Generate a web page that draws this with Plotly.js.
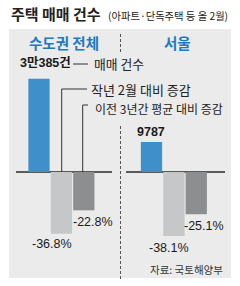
<!DOCTYPE html>
<html><head><meta charset="utf-8">
<script src="https://cdn.plot.ly/plotly-3.0.1.min.js"></script>
<style>html,body{margin:0;padding:0;background:#fff;}#c{width:240px;height:286px;}</style>
</head><body><div id="c"></div>
<script>
// ---- data ----
const categories = ['매매 건수', '작년 2월 대비 증감', '이전 3년간 평균 대비 증감'];
const regions = ['수도권 전체', '서울'];
const salesCount = [30385, 9787];          // 건
const yoyChange = [-36.8, -38.1];          // % vs last Feb
const avg3yChange = [-22.8, -25.1];        // % vs prior 3-yr avg
const titleText = '주택 매매 건수';
const subtitleText = '(아파트·단독주택 등 올 2월)';
const sourceText = '자료: 국토해양부';

// ---- style ----
const W = 240, H = 286;
const BLUE = '#3f8fca', LIGHT = '#c6c7c9', DARK = '#8d8e90', HEAD = '#1c79c2', PANEL = '#ebebeb';
const NUMF = '"Liberation Sans", Arial, "Noto Sans CJK KR", sans-serif';
const KRF = '"Noto Sans CJK KR", "Noto Sans", sans-serif';
const px = x => x / W, py = y => 1 - y / H;

function fmtCount(v) {
  if (v >= 10000) return Math.floor(v / 10000) + '만' + (v % 10000) + '건';
  return String(v);
}
function fmtPct(v) { return v.toFixed(1) + '%'; }

const countRange = [-114 * 326, 172 * 326];
const pctRange = [-114 * 0.595, 172 * 0.595];

const xa = ['x', 'x2'], yc = ['y', 'y3'], yp = ['y2', 'y4'];
const traces = [];
const annotations = [];
for (let i = 0; i < 2; i++) {
  traces.push({
    type: 'bar', x: [categories[0]], y: [salesCount[i]], xaxis: xa[i], yaxis: yc[i],
    width: 0.95, marker: {color: BLUE}, hoverinfo: 'skip', showlegend: false
  });
  traces.push({
    type: 'bar', x: [categories[1], categories[2]], y: [yoyChange[i], avg3yChange[i]],
    xaxis: xa[i], yaxis: yp[i], width: 0.95, marker: {color: [LIGHT, DARK]},
    hoverinfo: 'skip', showlegend: false
  });
}
// value labels
const cShift = [[6, 15.5], [0, 9.5]];
const lShift = [[-9, -10.5], [-4.4, -12]];
const dShift = [[8.7, -11.7], [8.2, -11.5]];
for (let i = 0; i < 2; i++) {
  annotations.push({xref: xa[i], yref: yc[i], x: categories[0], y: salesCount[i], text: '<b>' + fmtCount(salesCount[i]) + '</b>',
    showarrow: false, xanchor: 'center', yanchor: 'middle', xshift: cShift[i][0], yshift: cShift[i][1],
    font: {family: NUMF, size: 12.5, color: '#1a1a1a'}});
  annotations.push({xref: xa[i], yref: yp[i], x: categories[1], y: yoyChange[i], text: fmtPct(yoyChange[i]),
    showarrow: false, xanchor: 'center', yanchor: 'middle', xshift: lShift[i][0], yshift: lShift[i][1],
    font: {family: NUMF, size: 12.5, color: '#1a1a1a'}});
  annotations.push({xref: xa[i], yref: yp[i], x: categories[2], y: avg3yChange[i], text: fmtPct(avg3yChange[i]),
    showarrow: false, xanchor: 'center', yanchor: 'middle', xshift: dShift[i][0], yshift: dShift[i][1],
    font: {family: NUMF, size: 12.5, color: '#1a1a1a'}});
}
// titles & labels
annotations.push({xref: 'paper', yref: 'paper', x: px(9), y: py(13.5), text: '<b>' + titleText + '</b>', showarrow: false,
  xanchor: 'left', yanchor: 'middle', font: {family: KRF, size: 15, color: '#222'}});
annotations.push({xref: 'paper', yref: 'paper', x: px(106), y: py(15), text: subtitleText, showarrow: false,
  xanchor: 'left', yanchor: 'middle', font: {family: KRF, size: 10.3, color: '#222'}});
annotations.push({xref: 'paper', yref: 'paper', x: px(63.5), y: py(43), text: '<b>' + regions[0] + '</b>', showarrow: false,
  xanchor: 'center', yanchor: 'middle', font: {family: KRF, size: 14.5, color: HEAD}});
annotations.push({xref: 'paper', yref: 'paper', x: px(177), y: py(43), text: '<b>' + regions[1] + '</b>', showarrow: false,
  xanchor: 'center', yanchor: 'middle', font: {family: KRF, size: 14.5, color: HEAD}});
annotations.push({xref: 'paper', yref: 'paper', x: px(92), y: py(63.5), text: categories[0], showarrow: false,
  xanchor: 'left', yanchor: 'middle', font: {family: KRF, size: 12.8, color: '#222'}});
annotations.push({xref: 'paper', yref: 'paper', x: px(88.5), y: py(89.5), text: categories[1], showarrow: false,
  xanchor: 'left', yanchor: 'middle', font: {family: KRF, size: 13, color: '#222'}});
annotations.push({xref: 'paper', yref: 'paper', x: px(92.5), y: py(108), text: categories[2], showarrow: false,
  xanchor: 'left', yanchor: 'middle', font: {family: KRF, size: 12, color: '#222'}});
annotations.push({xref: 'paper', yref: 'paper', x: px(224.5), y: py(269), text: sourceText, showarrow: false,
  xanchor: 'right', yanchor: 'middle', font: {family: KRF, size: 10.5, color: '#333'}});

const P = (pts) => 'M ' + pts.map(p => px(p[0]) + ',' + py(p[1])).join(' L ');
const divLine = {color: '#555', width: 1, dash: '3px,2px'};
const shapes = [
  {type: 'rect', xref: 'paper', yref: 'paper', x0: px(9), x1: px(231), y0: py(278), y1: py(29), fillcolor: PANEL, line: {width: 0}, layer: 'below'},
  {type: 'line', xref: 'paper', yref: 'paper', x0: px(120.5), x1: px(120.5), y0: py(34), y1: py(52), line: divLine},
  {type: 'line', xref: 'paper', yref: 'paper', x0: px(120.5), x1: px(120.5), y0: py(126), y1: py(279), line: divLine},
  {type: 'line', xref: 'paper', yref: 'paper', x0: px(73), x1: px(88), y0: py(64), y1: py(64), line: {color: '#333', width: 1}},
  {type: 'path', xref: 'paper', yref: 'paper', path: P([[61.7, 172], [61.7, 89], [87, 89]]), line: {color: '#333', width: 1}},
  {type: 'path', xref: 'paper', yref: 'paper', path: P([[82.7, 172], [82.7, 105], [88, 105]]), line: {color: '#333', width: 1}}
];

const hidX = {type: 'category', categoryorder: 'array', categoryarray: categories, showticklabels: false, showgrid: false,
  zeroline: false, showline: false, ticks: '', fixedrange: true};
const cntY = {range: countRange, showticklabels: false, showgrid: false, ticks: '', showline: false,
  zeroline: true, zerolinecolor: '#5a5a5a', zerolinewidth: 1.5, layer: 'above traces', fixedrange: true, domain: [0, 1]};
const pctY = {range: pctRange, visible: false, showgrid: false, zeroline: false, fixedrange: true};

const layout = {
  width: W, height: H, margin: {l: 0, r: 0, t: 0, b: 0},
  paper_bgcolor: '#fff', plot_bgcolor: 'rgba(0,0,0,0)', barmode: 'overlay', showlegend: false,
  xaxis: Object.assign({}, hidX, {domain: [px(16), px(112)], range: [-1.027, 3.259], anchor: 'y'}),
  yaxis: Object.assign({}, cntY, {anchor: 'x'}),
  yaxis2: Object.assign({}, pctY, {overlaying: 'y', anchor: 'x'}),
  xaxis2: Object.assign({}, hidX, {domain: [px(126), px(225)], range: [-1.138, 3.282], anchor: 'y3'}),
  yaxis3: Object.assign({}, cntY, {anchor: 'x2'}),
  yaxis4: Object.assign({}, pctY, {overlaying: 'y3', anchor: 'x2'}),
  shapes: shapes, annotations: annotations
};
Plotly.newPlot('c', traces, layout, {displayModeBar: false, staticPlot: true});
</script></body></html>
